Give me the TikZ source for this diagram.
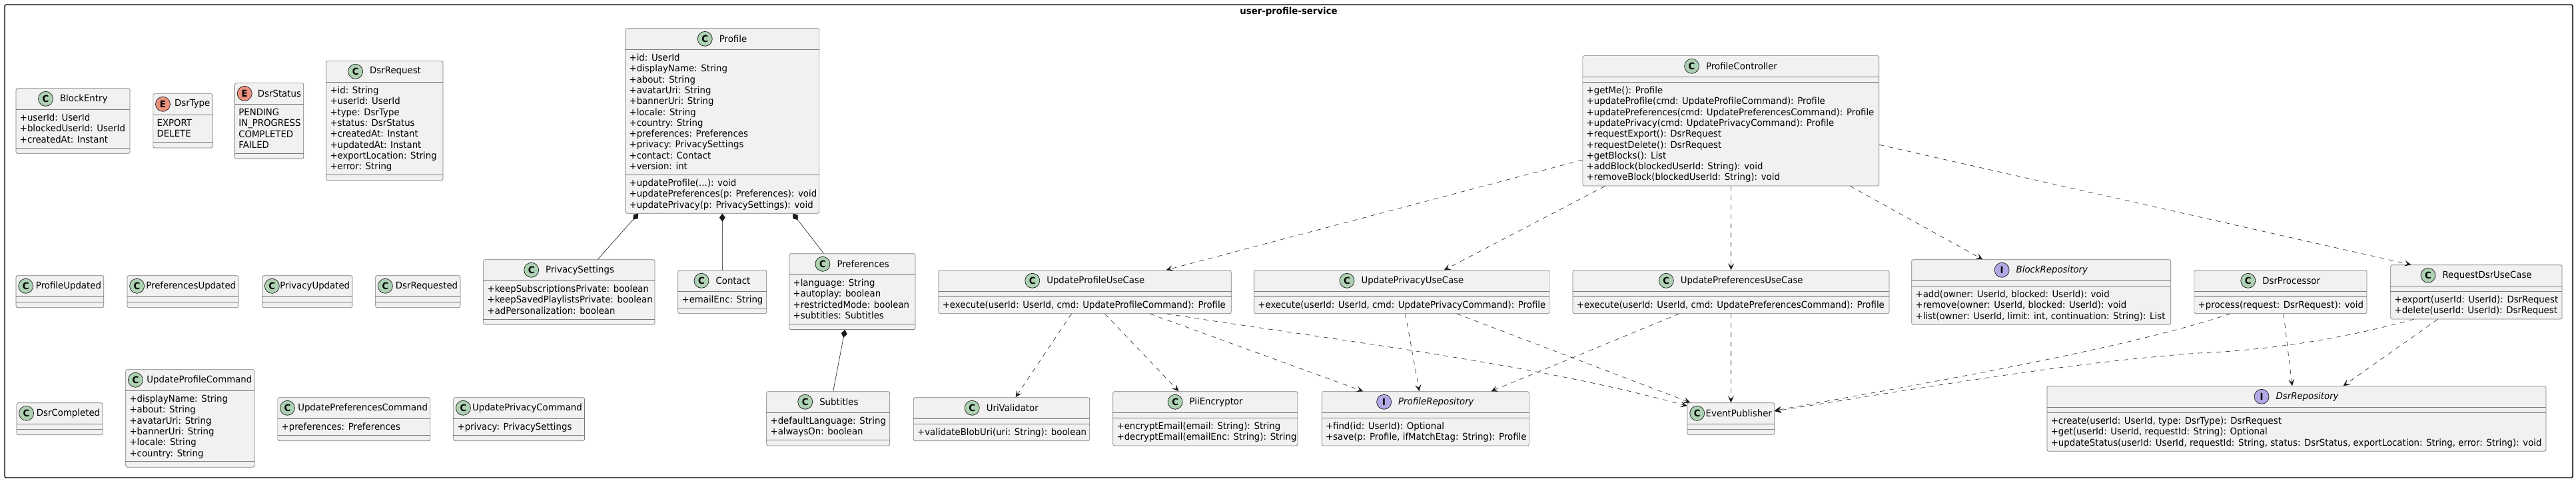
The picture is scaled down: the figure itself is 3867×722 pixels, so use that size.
\documentclass[tikz,border=0pt]{standalone}
\usepackage{fontspec}
\setmainfont{DejaVu Sans}[FakeStretch=0.95]
\usetikzlibrary{calc}
\usetikzlibrary{arrows.meta}

\definecolor{boxfill}{HTML}{F1F1F1}
\definecolor{boxline}{HTML}{7A7A7A}
\definecolor{inkline}{HTML}{181818}
\definecolor{iconC}{HTML}{ADD1B2}
\definecolor{iconE}{HTML}{EB937F}
\definecolor{iconI}{HTML}{B4A7E5}

\newlength{\titlewd}
\newcommand{\classfont}{\fontsize{14}{16.3}\selectfont}
\newcommand{\rowstrut}{\rule{0pt}{11pt}}

% id, icon letter, top left, width, title, field count, fields, method count, methods
\newcommand{\classbox}[9]{%
  \pgfmathsetmacro{\hfield}{ifthenelse(#6==0,8,8.7+16.3*#6)}
  \pgfmathsetmacro{\hmeth}{ifthenelse(#8==0,8,8.7+16.3*#8)}
  \node[classnode, minimum width=#4, minimum height=32+\hfield+\hmeth, anchor=north west] (#1) at (#3) {};
  \draw[sepline] ($(#1.north west)+(0,32)$) -- ($(#1.north east)+(0,32)$);
  \draw[sepline] ($(#1.north west)+(0,32+\hfield)$) -- ($(#1.north east)+(0,32+\hfield)$);
  \pgfinterruptpicture\setbox0=\hbox{\classfont #5}\global\titlewd=\wd0 \endpgfinterruptpicture
  \pgfmathsetmacro{\titlegap}{min(10,#4-\titlewd-22-8)}
  \pgfmathsetmacro{\titleleft}{(#4-\titlewd-22-\titlegap)/2}
  \node[classicon, fill=icon#2] (#1-icon) at ($(#1.north west)+(\titleleft+11,16)$) {#2};
  \node[classname] (#1-title) at ($(#1-icon.east)+(\titlegap,0)$) {#5};
  \node[classrows] (#1-fields) at ($(#1.north west)+(6,38)$) {\rowstrut #7};
  \node[classrows] (#1-methods) at ($(#1.north west)+(6,38+\hfield)$) {\rowstrut #9};
}

\begin{document}
\begin{tikzpicture}[x=1pt,y=-1pt]
  \tikzset{classnode/.style={draw=boxline, fill=boxfill, line width=0.7pt, rounded corners=2.5pt, inner sep=0pt}};
  \tikzset{sepline/.style={draw=boxline, line width=0.7pt}};
  \tikzset{classicon/.style={circle, draw=inkline, line width=0.7pt, minimum size=22pt, inner sep=0pt, font=\fontsize{14}{14}\selectfont\bfseries}};
  \tikzset{classname/.style={anchor=west, inner sep=0pt, font=\classfont}};
  \tikzset{classrows/.style={anchor=north west, align=left, inner sep=0pt, font=\classfont}};
  \tikzset{depedge/.style={draw=inkline, line width=0.6pt, dash pattern=on 7pt off 7pt, -{Stealth[length=10pt, width=9pt, inset=4.5pt]}}};
  \tikzset{compedge/.style={draw=inkline, line width=0.6pt, {Diamond[length=12pt, width=9pt]}-}};
  \useasboundingbox (0,0) rectangle (3867,722);

  \draw[draw=black, line width=1.4pt, rounded corners=2.5pt] (7,7) rectangle (3862,717);
  \node[inner sep=0pt, font=\fontsize{14}{16}\selectfont\bfseries] (frametitle) at (1934.5,18) {user-profile-service};

  \classbox{blockEntry}{C}{23.7,132.3}{171}{BlockEntry}{3}{+userId: UserId\\+blockedUserId: UserId\\+createdAt: Instant}{0}{}
  \classbox{dsrType}{E}{229.5,140.3}{89.3}{DsrType}{2}{EXPORT\\DELETE}{0}{}
  \classbox{dsrStatus}{E}{352.2,124.3}{103.2}{DsrStatus}{4}{PENDING\\IN\_PROGRESS\\COMPLETED\\FAILED}{0}{}
  \classbox{dsrRequest}{C}{489.3,91.3}{175.4}{DsrRequest}{8}{+id: String\\+userId: UserId\\+type: DsrType\\+status: DsrStatus\\+createdAt: Instant\\+updatedAt: Instant\\+exportLocation: String\\+error: String}{0}{}

  \classbox{profileUpdated}{C}{23.7,413.3}{131.7}{ProfileUpdated}{0}{}{0}{}
  \classbox{preferencesUpdated}{C}{190.6,413.3}{167}{PreferencesUpdated}{0}{}{0}{}
  \classbox{privacyUpdated}{C}{393.3,413.3}{135.3}{PrivacyUpdated}{0}{}{0}{}
  \classbox{dsrRequested}{C}{563.4,413.3}{127.2}{DsrRequested}{0}{}{0}{}
  \classbox{dsrCompleted}{C}{24.6,604.3}{129}{DsrCompleted}{0}{}{0}{}

  \classbox{updateProfileCommand}{C}{188.4,554.3}{193.3}{UpdateProfileCommand}{6}{+displayName: String\\+about: String\\+avatarUri: String\\+bannerUri: String\\+locale: String\\+country: String}{0}{}
  \classbox{updatePreferencesCommand}{C}{416.5,596.3}{229}{UpdatePreferencesCommand}{1}{+preferences: Preferences}{0}{}
  \classbox{updatePrivacyCommand}{C}{680.4,596.3}{196.8}{UpdatePrivacyCommand}{1}{+privacy: PrivacySettings}{0}{}

  \classbox{profile}{C}{938.4,42.3}{291.1}{Profile}{11}{+id: UserId\\+displayName: String\\+about: String\\+avatarUri: String\\+bannerUri: String\\+locale: String\\+country: String\\+preferences: Preferences\\+privacy: PrivacySettings\\+contact: Contact\\+version: int}{3}{+updateProfile(...): void\\+updatePreferences(p: Preferences): void\\+updatePrivacy(p: PrivacySettings): void}
  \classbox{privacySettings}{C}{725.4,389.3}{257.2}{PrivacySettings}{3}{+keepSubscriptionsPrivate: boolean\\+keepSavedPlaylistsPrivate: boolean\\+adPersonalization: boolean}{0}{}
  \classbox{contact}{C}{1017.4,405.3}{133}{Contact}{1}{+emailEnc: String}{0}{}
  \classbox{preferences}{C}{1184.4,380.3}{189.3}{Preferences}{4}{+language: String\\+autoplay: boolean\\+restrictedMode: boolean\\+subtitles: Subtitles}{0}{}
  \classbox{subtitles}{C}{1150.4,587.3}{184.9}{Subtitles}{2}{+defaultLanguage: String\\+alwaysOn: boolean}{0}{}

  \classbox{profileController}{C}{2375.5,83.3}{444.9}{ProfileController}{0}{}{9}{+getMe(): Profile\\+updateProfile(cmd: UpdateProfileCommand): Profile\\+updatePreferences(cmd: UpdatePreferencesCommand): Profile\\+updatePrivacy(cmd: UpdatePrivacyCommand): Profile\\+requestExport(): DsrRequest\\+requestDelete(): DsrRequest\\+getBlocks(): List\\+addBlock(blockedUserId: String): void\\+removeBlock(blockedUserId: String): void}

  \classbox{updateProfileUseCase}{C}{1408.6,405.3}{439.2}{UpdateProfileUseCase}{0}{}{1}{+execute(userId: UserId, cmd: UpdateProfileCommand): Profile}
  \classbox{updatePrivacyUseCase}{C}{1882.2,405.3}{443.3}{UpdatePrivacyUseCase}{0}{}{1}{+execute(userId: UserId, cmd: UpdatePrivacyCommand): Profile}
  \classbox{updatePreferencesUseCase}{C}{2360.7,405.3}{475}{UpdatePreferencesUseCase}{0}{}{1}{+execute(userId: UserId, cmd: UpdatePreferencesCommand): Profile}
  \classbox{blockRepository}{I}{2869.4,389.3}{388.9}{\textit{BlockRepository}}{0}{}{3}{+add(owner: UserId, blocked: UserId): void\\+remove(owner: UserId, blocked: UserId): void\\+list(owner: UserId, limit: int, continuation: String): List}
  \classbox{dsrProcessor}{C}{3293.5,405.3}{259.2}{DsrProcessor}{0}{}{1}{+process(request: DsrRequest): void}
  \classbox{requestDsrUseCase}{C}{3588.4,397.3}{257.2}{RequestDsrUseCase}{0}{}{2}{+export(userId: UserId): DsrRequest\\+delete(userId: UserId): DsrRequest}

  \classbox{uriValidator}{C}{1371,596.3}{264.4}{UriValidator}{0}{}{1}{+validateBlobUri(uri: String): boolean}
  \classbox{piiEncryptor}{C}{1670.4,587.3}{277.3}{PiiEncryptor}{0}{}{2}{+encryptEmail(email: String): String\\+decryptEmail(emailEnc: String): String}
  \classbox{profileRepository}{I}{1983.8,587.3}{311.2}{\textit{ProfileRepository}}{0}{}{2}{+find(id: UserId): Optional\\+save(p: Profile, ifMatchEtag: String): Profile}
  \classbox{eventPublisher}{C}{2532.7,604.3}{130.6}{EventPublisher}{0}{}{0}{}
  \classbox{dsrRepository}{I}{3072.6,579.3}{749}{\textit{DsrRepository}}{0}{}{3}{+create(userId: UserId, type: DsrType): DsrRequest\\+get(userId: UserId, requestId: String): Optional\\+updateStatus(userId: UserId, requestId: String, status: DsrStatus, exportLocation: String, error: String): void}

  \draw[compedge] ([xshift=-126pt]profile.south) -- ([xshift=43pt]privacySettings.north);
  \draw[compedge] (profile.south) -- (contact.north);
  \draw[compedge] ([xshift=106pt]profile.south) -- ([xshift=-43pt]preferences.north);
  \draw[compedge] ([xshift=-11pt]preferences.south) -- ([xshift=7.5pt]subtitles.north);

  \draw[depedge] ([yshift=-58.7pt]profileController.west) -- ([xshift=122pt]updateProfileUseCase.north);
  \draw[depedge] ([xshift=-189pt]profileController.south) -- ([xshift=63.6pt]updatePrivacyUseCase.north);
  \draw[depedge] (profileController.south) -- (updatePreferencesUseCase.north);
  \draw[depedge] ([xshift=179pt]profileController.south) -- ([xshift=-88pt]blockRepository.north);
  \draw[depedge] ([yshift=-36pt]profileController.east) -- ([xshift=-98pt]requestDsrUseCase.north);

  \draw[depedge] ([xshift=-20pt]updateProfileUseCase.south) -- ([xshift=21pt]uriValidator.north);
  \draw[depedge] ([xshift=30pt]updateProfileUseCase.south) -- ([xshift=-40pt]piiEncryptor.north);
  \draw[depedge] ([xshift=97.5pt]updateProfileUseCase.south) -- ([xshift=-93.6pt]profileRepository.north);
  \draw[depedge] ([xshift=123pt]updateProfileUseCase.south) .. controls (2000,510) and (2300,545) .. ([yshift=19.2pt]eventPublisher.west);

  \draw[depedge] ([xshift=5.5pt]updatePrivacyUseCase.south) -- ([xshift=-9.2pt]profileRepository.north);
  \draw[depedge] ([xshift=82.6pt]updatePrivacyUseCase.south) -- ([xshift=-61pt]eventPublisher.north);

  \draw[depedge] ([xshift=-78pt]updatePreferencesUseCase.south) -- ([xshift=98.6pt]profileRepository.north);
  \draw[depedge] (updatePreferencesUseCase.south) -- (eventPublisher.north);

  \draw[depedge] ([xshift=-75.5pt]dsrProcessor.south) .. controls (3200,520) and (2950,565) .. ([yshift=12.5pt]eventPublisher.east);
  \draw[depedge] ([xshift=4.6pt]dsrProcessor.south) -- ([xshift=-6.6pt]dsrRepository.north);

  \draw[depedge] ([xshift=-94pt]requestDsrUseCase.south) .. controls (3530,505) and (3420,525) .. (3300,530) .. controls (3100,545) and (2900,580) .. ([yshift=11.5pt]eventPublisher.east);
  \draw[depedge] ([xshift=-58pt]requestDsrUseCase.south) -- ([xshift=70pt]dsrRepository.north);
\end{tikzpicture}
\end{document}
